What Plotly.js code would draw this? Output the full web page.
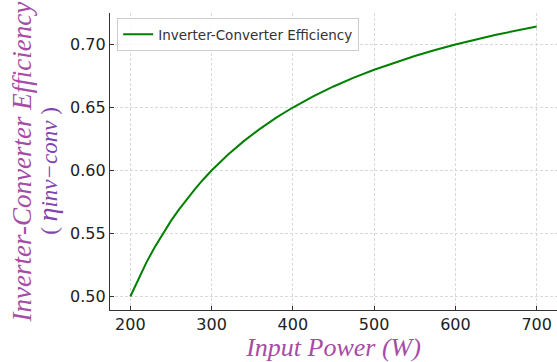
<!DOCTYPE html>
<html>
<head>
<meta charset="utf-8">
<script src="https://cdn.plot.ly/plotly-3.0.1.min.js"></script>
<style>html,body{margin:0;padding:0;background:#fff;}#chart{width:557px;height:362px;}</style>
</head>
<body>
<div id="chart"></div>
<script>
// Input power (W)
const inputPower = [200, 210, 220, 230, 240, 250, 260, 270, 280, 290, 300, 320, 340, 360, 380, 400, 425, 450, 475, 500, 525, 550, 575, 600, 650, 700];
// Inverter-converter efficiency
const efficiency = [0.5000, 0.5143, 0.5273, 0.5391, 0.5500, 0.5600, 0.5692, 0.5778, 0.5857, 0.5931, 0.6000, 0.6125, 0.6235, 0.6333, 0.6421, 0.6500, 0.6588, 0.6667, 0.6737, 0.6800, 0.6857, 0.6909, 0.6957, 0.7000, 0.7077, 0.7143];
const seriesName = 'Inverter-Converter Efficiency';
const xTicks = [200, 300, 400, 500, 600, 700];
const yTicks = [0.50, 0.55, 0.60, 0.65, 0.70];

const titleColor = '#A64CA6';
const serif = '"Liberation Serif", "DejaVu Serif", serif';

const trace = {
  x: inputPower, y: efficiency, type: 'scatter', mode: 'lines',
  name: seriesName,
  line: {color: '#008000', width: 2, shape: 'linear'}
};

const axisCommon = {
  showgrid: true, gridcolor: '#d0d0d0', gridwidth: 0.8, griddash: '3px,2px',
  zeroline: false, showline: true, linecolor: '#333333', linewidth: 1.2,
  ticks: 'inside', ticklen: 4, tickwidth: 1, tickcolor: '#333333',
  tickfont: {family: '"DejaVu Sans", sans-serif', size: 16, color: '#222222'}
};

const layout = {
  width: 557, height: 362,
  margin: {l: 110, r: 0, t: 13, b: 52},
  paper_bgcolor: '#ffffff', plot_bgcolor: '#ffffff',
  showlegend: true,
  legend: {
    x: 0.016, y: 0.983, xanchor: 'left', yanchor: 'top',
    bgcolor: 'rgba(255,255,255,0.8)', bordercolor: '#cccccc', borderwidth: 1,
    font: {family: '"DejaVu Sans", sans-serif', size: 13.5, color: '#333333'}
  },
  xaxis: Object.assign({}, axisCommon, {
    range: [175, 725], tickvals: xTicks, ticktext: xTicks.map(String),
    title: {text: '<i>Input Power (W)</i>', font: {family: serif, size: 26, color: titleColor}, standoff: 4}
  }),
  yaxis: Object.assign({}, axisCommon, {
    range: [0.4893, 0.7250], tickvals: yTicks, ticktext: yTicks.map(v => v.toFixed(2)),
    title: {text: ''}
  }),
  annotations: [
    {xref: 'paper', yref: 'paper', x: -0.197, y: 0.50, xanchor: 'center', yanchor: 'middle',
     textangle: -90, showarrow: false,
     text: '<i>Inverter-Converter Efficiency</i>',
     font: {family: serif, size: 27, color: titleColor}},
    {xref: 'paper', yref: 'paper', x: -0.14, y: 0.47, xanchor: 'center', yanchor: 'middle',
     textangle: -90, showarrow: false,
     text: '( <i><span style="font-size:28px">η</span>inv−conv</i> )',
     font: {family: serif, size: 23, color: '#8444B0'}}
  ]
};

Plotly.newPlot('chart', [trace], layout, {displayModeBar: false, staticPlot: true});
</script>
</body>
</html>
